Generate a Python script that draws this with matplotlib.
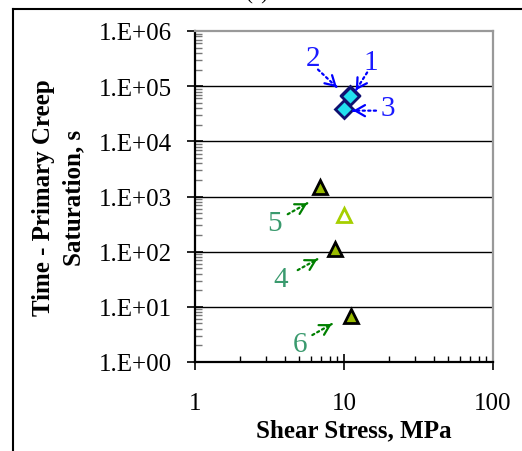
import numpy as np
import matplotlib
matplotlib.use("Agg")
import matplotlib.pyplot as plt
from matplotlib.lines import Line2D
from matplotlib.ticker import LogLocator, FixedLocator, NullFormatter

# data
diamond_stress = [10.97, 10.9, 10.05]      # points 1, 2, 3
diamond_time = [6.9e4, 6.7e4, 3.8e4]
tri_stress = [6.9, 8.7, 11.1]              # filled triangles
tri_time = [1500, 111, 6.9]
open_stress = [10.0]                       # open triangle
open_time = [466]

ytick_vals = [1e0, 1e1, 1e2, 1e3, 1e4, 1e5, 1e6]
ytick_labels = ["1.E+00", "1.E+01", "1.E+02", "1.E+03", "1.E+04", "1.E+05", "1.E+06"]
xtick_vals = [1, 10, 100]
xtick_labels = ["1", "10", "100"]

# label text, label position, arrow start, arrow end
blue_notes = [("1", (15.2, 2.7e5), (14.3, 1.77e5), (12.0, 8.4e4)),
              ("2", (6.2, 3.2e5), (6.69, 2.0e5), (8.97, 9.5e4)),
              ("3", (19.7, 4.1e4), (16.4, 3.6e4), (11.5, 3.6e4))]
green_notes = [("5", (3.44, 328), (4.19, 477), (5.67, 755)),
               ("4", (3.78, 31.8), (4.89, 46.3), (6.62, 73)),
               ("6", (5.07, 2.12), (6.13, 3.08), (8.27, 4.87))]

plt.rcParams['font.family'] = ['Liberation Serif', 'DejaVu Serif']

fig = plt.figure(figsize=(5.22, 4.52), dpi=100)
ax = fig.add_axes([195/522, 89/452, 298/522, 331/452])

ax.set_xscale('log')
ax.set_yscale('log')
ax.set_xlim(1, 100)
ax.set_ylim(1, 1e6)

# grid at major y ticks
for v in ytick_vals[1:-1]:
    ax.axhline(v, color='black', lw=1.0, zorder=1)

ax.plot(tri_stress, tri_time, linestyle='none', marker='^', ms=10,
        mfc='#99bb00', mec='black', mew=2, zorder=4)
ax.plot(open_stress, open_time, linestyle='none', marker='^', ms=10,
        mfc='white', mec='#a6cf00', mew=2, zorder=4)
ax.plot(diamond_stress, diamond_time, linestyle='none', marker='D', ms=9,
        mfc='#22e0ee', mec='#101070', mew=2, zorder=5)

def note(lbl, txt_pos, start, end, tcol, acol):
    ax.text(txt_pos[0], txt_pos[1], lbl, color=tcol, fontsize=21,
            ha='center', va='center', zorder=6)
    # dotted shaft
    ax.annotate('', xy=end, xytext=start,
                arrowprops=dict(arrowstyle='-', color=acol, lw=1.6,
                                linestyle=(0, (1, 1.5)), shrinkA=0, shrinkB=0),
                zorder=6)
    # solid open head from a point just before the tip
    near = (end[0] * (start[0] / end[0]) ** 0.03, end[1] * (start[1] / end[1]) ** 0.03)
    ax.annotate('', xy=end, xytext=near,
                arrowprops=dict(arrowstyle='->,head_length=0.7,head_width=0.4',
                                color=acol, lw=1.6, shrinkA=0, shrinkB=0),
                zorder=6)

for lbl, tp, s, e in blue_notes:
    note(lbl, tp, s, e, '#1a1aff', '#0000ff')
for lbl, tp, s, e in green_notes:
    note(lbl, tp, s, e, '#3a9a6e', '#008000')

# spines
for side in ['left', 'bottom']:
    ax.spines[side].set_color('black')
    ax.spines[side].set_linewidth(1.6)
for side in ['top', 'right']:
    ax.spines[side].set_color('#999999')
    ax.spines[side].set_linewidth(1.6)

ax.yaxis.set_major_locator(FixedLocator(ytick_vals))
ax.set_yticklabels(ytick_labels)
ax.yaxis.set_minor_locator(LogLocator(base=10, subs=np.arange(2, 10), numticks=20))
ax.yaxis.set_minor_formatter(NullFormatter())
ax.xaxis.set_major_locator(FixedLocator(xtick_vals))
ax.set_xticklabels(xtick_labels)
ax.xaxis.set_minor_locator(LogLocator(base=10, subs=np.arange(2, 10), numticks=20))
ax.xaxis.set_minor_formatter(NullFormatter())

ax.tick_params(axis='y', which='major', direction='inout', length=11, width=1.2,
               labelsize=18, pad=11)
ax.tick_params(axis='y', which='minor', direction='in', length=5, width=1.0,
               color='#777777')
ax.tick_params(axis='x', which='major', direction='inout', length=11, width=1.2,
               labelsize=18, pad=16)
ax.tick_params(axis='x', which='minor', direction='in', length=4.5, width=1.0)

ax.set_xlabel('Shear Stress, MPa', fontsize=18, fontweight='bold', labelpad=1)
ax.xaxis.set_label_coords(0.534, -0.17)
ax.set_ylabel('Time - Primary Creep\nSaturation, s', fontsize=18,
              fontweight='bold', labelpad=10, linespacing=1.4)

# page frame lines and clipped panel letter
fig.add_artist(Line2D([13/522, 1], [1 - 10/452, 1 - 10/452], color='black', lw=1.5))
fig.add_artist(Line2D([13/522, 13/522], [0, 1 - 10/452], color='black', lw=1.5))
fig.text(257/522, 1 + 1/452, '(a)', fontsize=15, ha='center', va='baseline')

fig.savefig('out.png', dpi=100)
